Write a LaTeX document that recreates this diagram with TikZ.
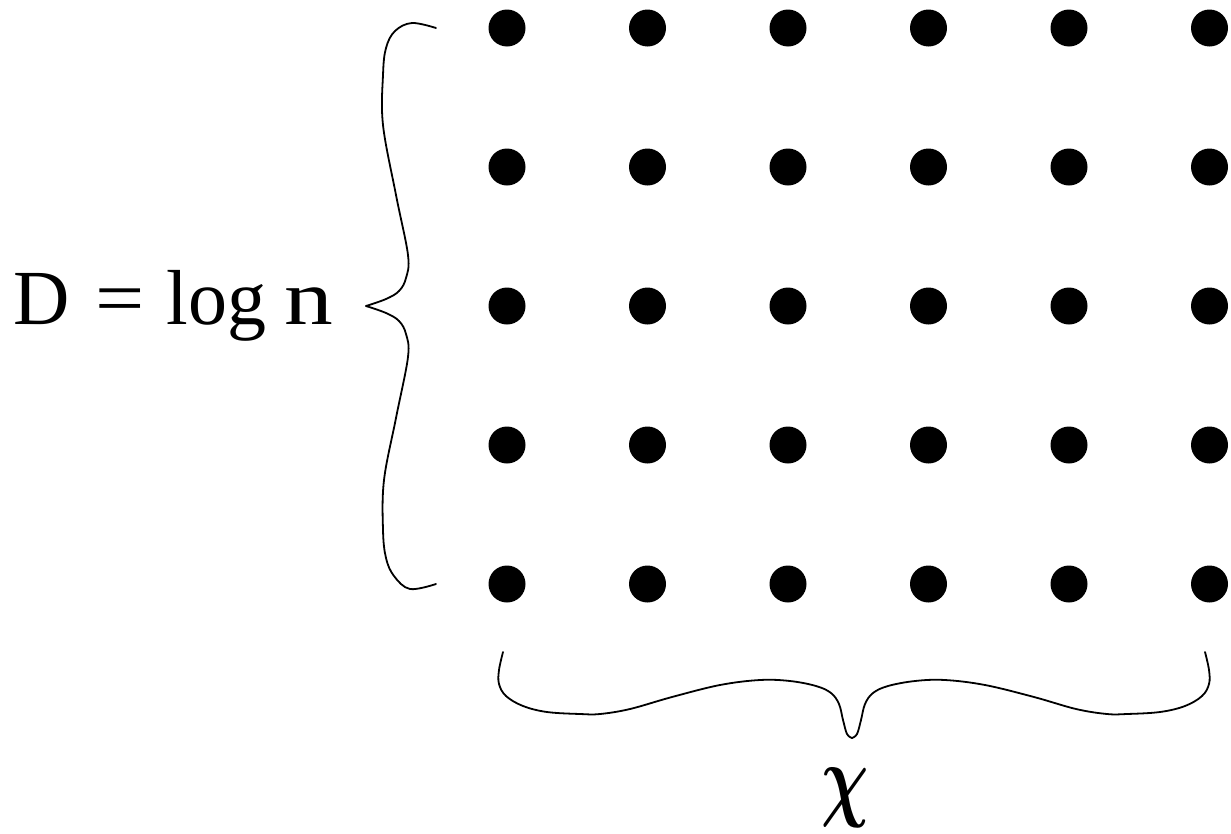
\documentclass[tikz,border=0pt]{standalone}
\usepackage{bm}
\usepackage{fontspec}
\setmainfont{Liberation Serif}
\begin{document}
\begin{tikzpicture}[x=1pt,y=-1pt,
  brace/.style={line width=1.8pt, line cap=round, line join=round},
  dot/.style={circle, fill=black, draw=none, inner sep=0pt, minimum size=37pt}]
\useasboundingbox (0,0) rectangle (1231,833);
\foreach \c [count=\i] in {507,647.5,788,928.5,1069,1209.5} {
  \foreach \r [count=\j] in {28,167,306,445,584} {
    \node[dot] (d\i-\j) at (\c,\r) {};
  }
}
% left brace
\draw[brace] plot[smooth, tension=0.6] coordinates {(436,28) (412,23) (395,31) (386,48) (383,75) (383,125) (396,195) (408,255) (406,278) (399,291) (386,299) (366,306)};
\draw[brace] plot[smooth, tension=0.6] coordinates {(366,306) (386,313) (399,321) (406,334) (408,357) (396,418) (384,480) (383,530) (386,558) (394,576) (410,589) (436,584)};
% bottom brace
\draw[brace] plot[smooth, tension=0.6] coordinates {(503,652) (499,670) (499,684) (506,696) (523,706) (547,712) (580,714) (600,714) (630,709) (672,697) (720,685) (760,680) (790,681) (816,686) (831,693) (839,704) (843,720) (847,734) (852,738)};
\draw[brace] plot[smooth, tension=0.6] coordinates {(852,738) (857,734) (861,720) (865,704) (873,693) (888,686) (915,681) (945,680) (985,685) (1034,697) (1076,709) (1107,714) (1127,714) (1160,712) (1185,706) (1202,696) (1209,684) (1209,670) (1205,652)};
% labels
\node[anchor=base west, inner sep=0pt, font=\fontsize{78}{80}\selectfont] (lbl) at (13,324)
  {D\hspace{26pt}\scalebox{1.12}[1]{=}\hspace{22pt}log\hspace{18pt}\scalebox{1.25}[1]{n}};
\node[inner sep=0pt] (chi) at (845,798) {\scalebox{6.6}[9.3]{$\bm{\chi}$}};
\end{tikzpicture}
\end{document}
